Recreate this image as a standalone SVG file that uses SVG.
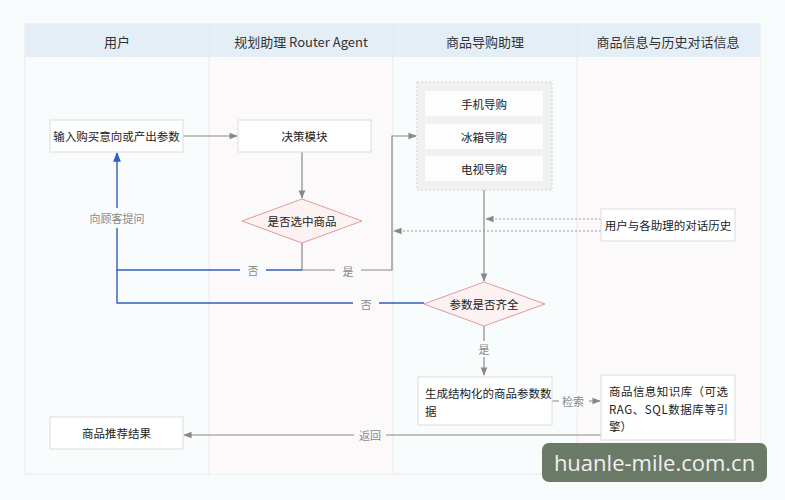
<svg xmlns="http://www.w3.org/2000/svg" width="785" height="500" viewBox="0 0 785 500">
<defs>
<style>
text{font-family:"Noto Sans CJK SC","Noto Sans",sans-serif;fill:#222;}
.hd{font-size:13px;text-anchor:middle;dominant-baseline:central;fill:#333;}
.nt{font-size:11.5px;text-anchor:middle;dominant-baseline:central;}
.lt{font-size:11.5px;}
.lbl{font-size:11px;text-anchor:middle;dominant-baseline:central;fill:#888;}
.box{fill:#fff;stroke:#dcdcdc;stroke-width:1;}
.dia{fill:#fdf2f2;stroke:#e09a9a;stroke-width:1;}
.g{fill:none;stroke:#888;stroke-width:1.2;}
.b{fill:none;stroke:#2f5fbf;stroke-width:1.4;}
.d{fill:none;stroke:#999;stroke-width:1.2;stroke-dasharray:2 2;}
</style>
<marker id="ag" viewBox="0 0 10 10" refX="9" refY="5" markerWidth="7" markerHeight="7" orient="auto"><path d="M0,1 L10,5 L0,9 z" fill="#888"/></marker>
<marker id="ab" viewBox="0 0 10 10" refX="9" refY="5" markerWidth="7" markerHeight="7" orient="auto"><path d="M0,1 L10,5 L0,9 z" fill="#2f5fbf"/></marker>
</defs>
<rect width="785" height="500" fill="#f7fbfc"/>
<g id="pool">
<rect x="25" y="24" width="735" height="450" fill="#f9fcfd" stroke="#ece6ea"/>
<rect x="25" y="24" width="735" height="33" fill="#e4eef7"/>
<rect x="209" y="57" width="184" height="417" fill="#fcf9fb"/>
<rect x="577" y="57" width="183" height="417" fill="#fcf9fb"/>
<line x1="209" y1="24" x2="209" y2="474" stroke="#ece6ea"/>
<line x1="393" y1="24" x2="393" y2="474" stroke="#ece6ea"/>
<line x1="577" y1="24" x2="577" y2="474" stroke="#ece6ea"/>
<text class="hd" x="117" y="41">用户</text>
<text class="hd" x="301" y="41">规划助理 Router Agent</text>
<text class="hd" x="485" y="41">商品导购助理</text>
<text class="hd" x="668" y="41">商品信息与历史对话信息</text>
</g>
<g id="connectors">
<line class="g" x1="183" y1="136" x2="237" y2="136" marker-end="url(#ag)"/>
<line class="g" x1="302" y1="152" x2="302" y2="198" marker-end="url(#ag)"/>
<polyline class="g" points="302,243 302,270 392,270 392,136 416,136" marker-end="url(#ag)"/>
<polyline class="b" points="302,270 117,270 117,153" marker-end="url(#ab)"/>
<polyline class="b" points="424,303 117,303 117,270"/>
<line class="g" x1="484" y1="190" x2="484" y2="281" marker-end="url(#ag)"/>
<line class="d" x1="601" y1="219" x2="486" y2="219" marker-end="url(#ag)"/>
<line class="d" x1="601" y1="231" x2="394" y2="231" marker-end="url(#ag)"/>
<line class="g" x1="484" y1="326" x2="484" y2="375" marker-end="url(#ag)"/>
<line class="g" x1="552" y1="401" x2="600" y2="401" stroke="#aaa" marker-end="url(#ag)"/>
<line class="g" x1="601" y1="435" x2="184" y2="435" marker-end="url(#ag)"/>
<rect x="108" y="208" width="18" height="20" fill="#f9fcfd"/>
<text class="lbl" x="117" y="218">向顾客提问</text>
<rect x="240" y="262" width="26" height="16" fill="#f9fcfd"/>
<text class="lbl" x="253" y="270">否</text>
<rect x="335" y="262" width="26" height="16" fill="#fcf9fb"/>
<text class="lbl" x="348" y="271">是</text>
<rect x="353" y="295" width="26" height="16" fill="#fcf9fb"/>
<text class="lbl" x="366" y="304">否</text>
<rect x="476" y="341" width="16" height="16" fill="#f9fcfd"/>
<text class="lbl" x="484" y="349">是</text>
<rect x="559" y="393" width="30" height="16" fill="#f9fcfd"/>
<text class="lbl" x="573" y="401">检索</text>
<rect x="354" y="427" width="32" height="16" fill="#fcf9fb"/>
<text class="lbl" x="370" y="435">返回</text>
</g>
<g id="n-input">
<rect class="box" x="50" y="120" width="133" height="32"/>
<text class="nt" x="116.5" y="136">输入购买意向或产出参数</text>
</g>
<g id="n-decide">
<rect class="box" x="238" y="120" width="133" height="32"/>
<text class="nt" x="304.5" y="136">决策模块</text>
</g>
<g id="n-select">
<polygon class="dia" points="302,199 362,221 302,243 242,221"/>
<text class="nt" x="302" y="221">是否选中商品</text>
</g>
<g id="n-group">
<rect x="417" y="82" width="135" height="108" fill="#f1f1f1" stroke="#cfcfcf" stroke-dasharray="2 2"/>
<rect x="425" y="91" width="118" height="25" fill="#fdfdfd"/>
<text class="nt" x="484" y="103.5">手机导购</text>
<rect x="425" y="124" width="118" height="25" fill="#fdfdfd"/>
<text class="nt" x="484" y="136.5">冰箱导购</text>
<rect x="425" y="156" width="118" height="25" fill="#fdfdfd"/>
<text class="nt" x="484" y="168.5">电视导购</text>
</g>
<g id="n-history">
<rect class="box" x="601" y="209" width="134" height="32"/>
<text class="nt" x="668" y="225">用户与各助理的对话历史</text>
</g>
<g id="n-params">
<polygon class="dia" points="484,282 545,304 484,326 424,304"/>
<text class="nt" x="484" y="304">参数是否齐全</text>
</g>
<g id="n-gen">
<rect class="box" x="418" y="377" width="134" height="48"/>
<text class="lt" x="425" y="398">生成结构化的商品参数数</text>
<text class="lt" x="425" y="416">据</text>
</g>
<g id="n-kb">
<rect class="box" x="601" y="375" width="134" height="65"/>
<text class="lt" x="609" y="396" textLength="119" lengthAdjust="spacing">商品信息知识库（可选</text>
<text class="lt" x="609" y="414" textLength="119" lengthAdjust="spacing">RAG、SQL数据库等引</text>
<text class="lt" x="609" y="431">擎）</text>
</g>
<g id="n-result">
<rect class="box" x="50" y="417" width="133" height="32"/>
<text class="nt" x="116.5" y="433">商品推荐结果</text>
</g>
<g id="watermark">
<rect x="542" y="443" width="225" height="39" rx="7" fill="#6b7a67"/>
<text x="654.5" y="471" font-size="22" text-anchor="middle" style="font-family:'Open Sans','DejaVu Sans',sans-serif;fill:#f3eef2;">huanle-mile.com.cn</text>
</g>
</svg>
